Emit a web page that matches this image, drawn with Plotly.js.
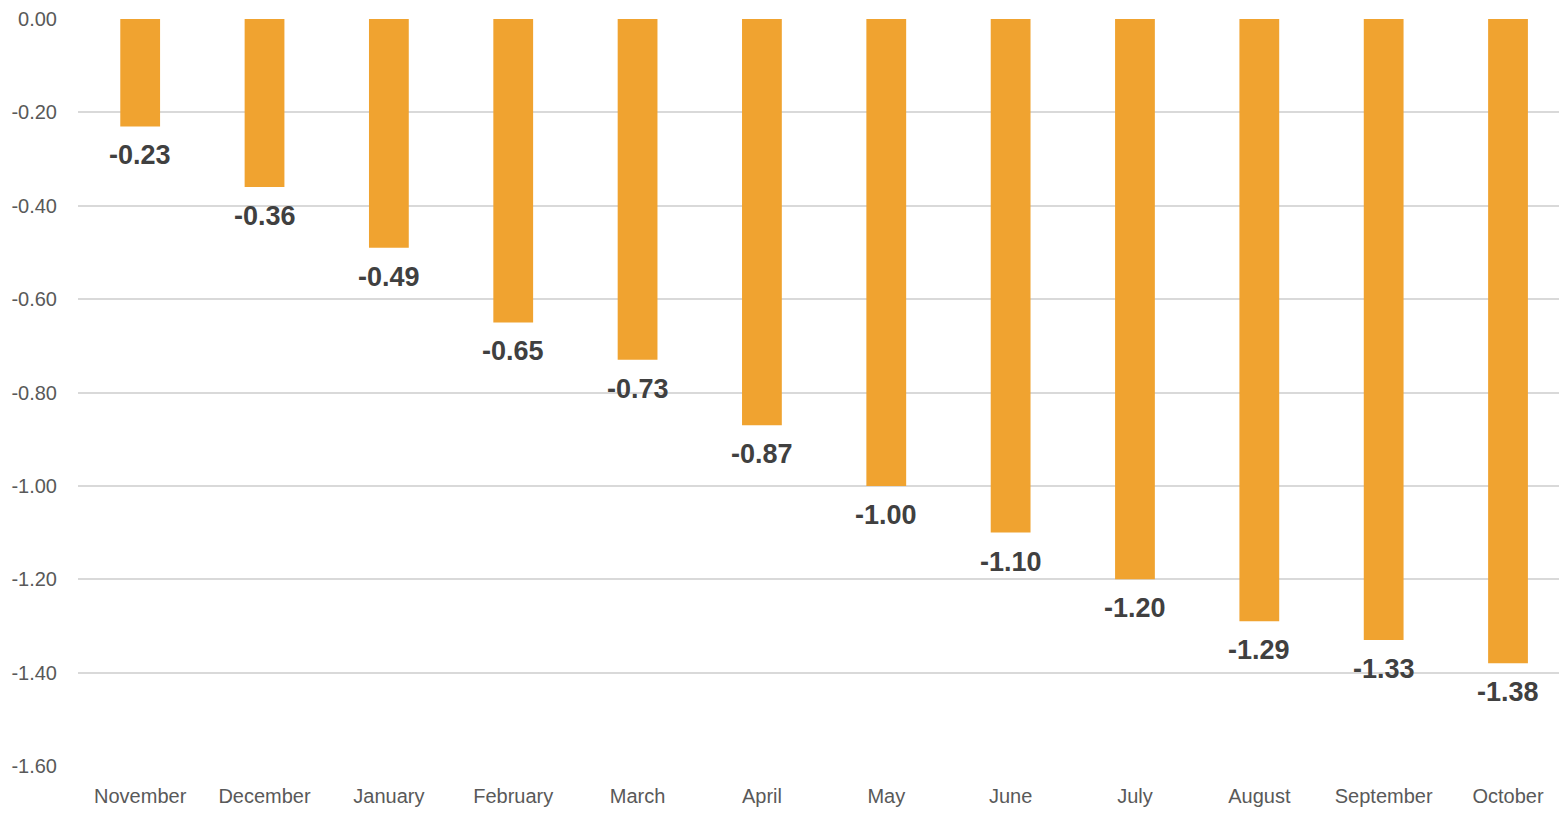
<!DOCTYPE html>
<html>
<head>
<meta charset="utf-8">
<script src="https://cdn.plot.ly/plotly-3.0.1.min.js"></script>
<style>html,body{margin:0;padding:0;background:#fff;}#chart{width:1559px;height:815px;}</style>
</head>
<body>
<div id="chart"></div>
<script>
const months = ["November","December","January","February","March","April","May","June","July","August","September","October"];
const values = [-0.23,-0.36,-0.49,-0.65,-0.73,-0.87,-1.00,-1.10,-1.20,-1.29,-1.33,-1.38];
const yTicks = [0,-0.2,-0.4,-0.6,-0.8,-1.0,-1.2,-1.4,-1.6];

const annotations = months.map((m,i)=>({
  x: m, y: values[i], xref:'x', yref:'y',
  text: values[i].toFixed(2), showarrow:false,
  yanchor:'middle', yshift:-29,
  font:{family:'Liberation Sans, Arial, sans-serif', size:27, color:'#404040', weight:'bold'}
}));

Plotly.newPlot('chart', [{
  type:'bar', x: months, y: values, width:0.32,
  marker:{color:'#F0A330'}, hoverinfo:'none'
}], {
  width:1559, height:815,
  margin:{l:78, r:0, t:19, b:49},
  paper_bgcolor:'#fff', plot_bgcolor:'#fff',
  showlegend:false,
  xaxis:{range:[-0.5, 11.41], showgrid:false, zeroline:false, showline:false, ticks:'',
    tickfont:{family:'Liberation Sans, Arial, sans-serif', size:20, color:'#595959'}, ticklabelstandoff:16},
  yaxis:{range:[-1.6,0], tickvals:yTicks, ticktext:yTicks.map(v=>v.toFixed(2)),
    showgrid:true, gridcolor:'#d9d9d9', gridwidth:2, zeroline:false, showline:false, ticks:'',
    tickfont:{family:'Liberation Sans, Arial, sans-serif', size:20, color:'#595959'}, ticklabelstandoff:20},
  annotations: annotations
}, {displayModeBar:false, staticPlot:true});
</script>
</body>
</html>
